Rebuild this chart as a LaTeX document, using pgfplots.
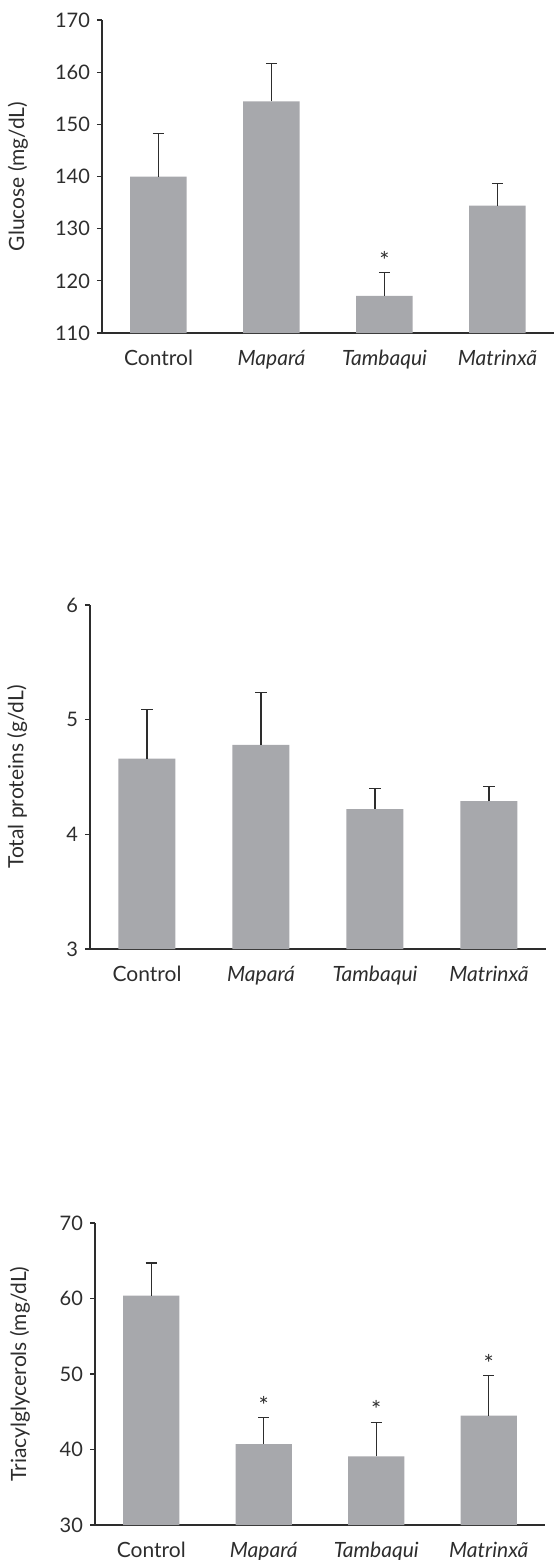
\documentclass[border=0pt]{standalone}
\usepackage{pgfplots}
\pgfplotsset{compat=1.18}
\usepackage{fontspec}
\setmainfont{Lato}
\definecolor{barc}{RGB}{167,168,172}
\definecolor{txt}{RGB}{45,45,45}
\pgfplotsset{
 panel/.style={
  scale only axis, anchor=south west,
  xmin=-0.5, xmax=3.5,
  axis x line*=bottom, axis y line*=left,
  axis line style={line width=0.6pt, draw=txt},
  xtick={0,1,2,3},
  xticklabels={Control,\textit{Mapará},\textit{Tambaqui},\textit{Matrinxã}},
  xtick style={draw=none},
  ytick style={line width=0.6pt, draw=txt},
  tick align=outside, major tick length=2.5pt,
  tick label style={font=\fontsize{10}{12}\selectfont, text=txt},
  label style={font=\fontsize{10.5}{12}\selectfont, text=txt},
  xticklabel style={font=\fontsize{10.5}{12}\selectfont, text height=7.5pt, text depth=2pt, yshift=-2.5pt},
  /pgf/number format/assume math mode=true,
 },
 bars/.style={ybar, bar width=0.5, bar shift=0pt, fill=barc, draw=none,
   error bars/.cd, y dir=plus, y explicit,
   error bar style={line width=0.6pt, draw=txt},
   error mark options={line width=0.6pt, draw=txt, mark size=2.8pt, rotate=90}},
 stars/.style={draw=none, mark=none, nodes near coords={*},
   every node near coord/.append style={anchor=south, inner sep=1.5pt, font=\fontsize{12}{14}\selectfont, text=txt}},
}
\begin{document}
\begin{tikzpicture}
\path[use as bounding box] (0,0) rectangle (276.5pt,-780pt);

% Panel 1: Glucose
\begin{axis}[panel, at={(51pt,-166.5pt)}, width=226pt, height=156.5pt,
  ymin=110, ymax=170, ytick={110,120,...,170},
  ylabel={Glucose (mg/dL)},
  ylabel style={at={(axis description cs:-0.186,0.5)}, anchor=center}]
\addplot[bars] coordinates {
 (0,140.0) +- (0,8.3)
 (1,154.4) +- (0,7.3)
 (2,117.1) +- (0,4.5)
 (3,134.4) +- (0,4.2)
};
\addplot[stars] coordinates {(2,121.6)};
\end{axis}

% Panel 2: Total proteins
\begin{axis}[panel, at={(45pt,-474.5pt)}, width=228pt, height=172pt,
  ymin=3, ymax=6, ytick={3,4,5,6},
  ylabel={Total proteins (g/dL)},
  ylabel style={at={(axis description cs:-0.160,0.5)}, anchor=center}]
\addplot[bars] coordinates {
 (0,4.66) +- (0,0.43)
 (1,4.78) +- (0,0.46)
 (2,4.22) +- (0,0.18)
 (3,4.29) +- (0,0.13)
};
\end{axis}

% Panel 3: Triacylglycerols
\begin{axis}[panel, at={(47.5pt,-762.5pt)}, width=225pt, height=151pt,
  ymin=30, ymax=70, ytick={30,40,...,70},
  ylabel={Triacylglycerols (mg/dL)},
  ylabel style={at={(axis description cs:-0.167,0.5)}, anchor=center}]
\addplot[bars] coordinates {
 (0,60.4) +- (0,4.3)
 (1,40.7) +- (0,3.5)
 (2,39.1) +- (0,4.5)
 (3,44.5) +- (0,5.3)
};
\addplot[stars] coordinates {(1,44.2) (2,43.6) (3,49.8)};
\end{axis}
\end{tikzpicture}
\end{document}
